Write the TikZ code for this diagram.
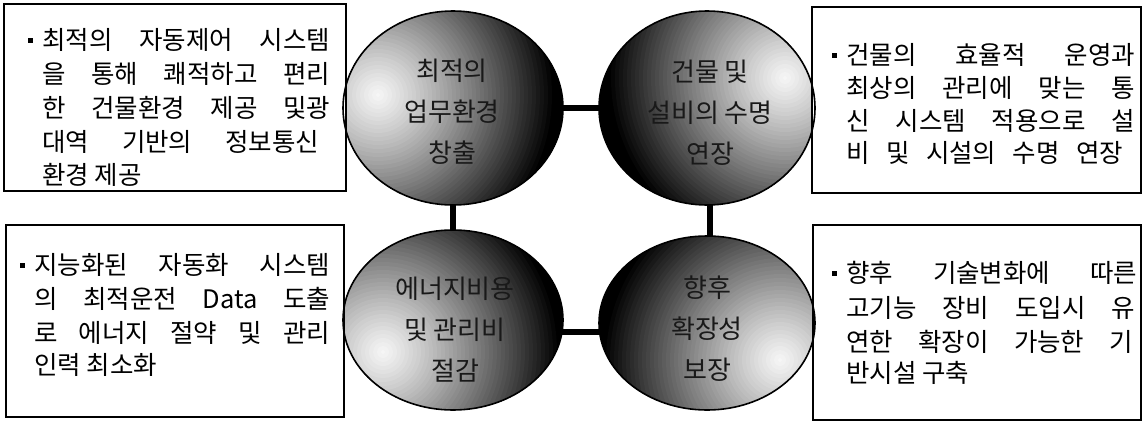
\documentclass[tikz,border=0pt]{standalone}
\usepackage{fontspec}
\setmainfont{Noto Sans CJK KR}
\usetikzlibrary{shapes.geometric}
\newcommand\myballfill[1]{%
  \foreach \r in {230,226,...,2}{%
    \pgfmathsetmacro\pp{min(100,3+97*(\r/178)^1.15)}%
    \fill[black!\pp] (#1) circle (\r pt);
  }}
\tikzset{
  conn/.style={line width=6pt, black},
  sph/.style={ellipse, inner sep=0pt, outer sep=0pt},
  sphline/.style={line width=1.6pt, black},
  infobox/.style={draw=black, line width=2.6pt, fill=white},
  ln/.style={anchor=base west, inner sep=0pt, font=\fontsize{25.5pt}{31pt}\selectfont},
  ctext/.style={align=center, inner sep=0pt, text=black!90, font=\fontsize{26pt}{41pt}\selectfont},
  bul/.style={rectangle, fill=black, minimum size=5pt, inner sep=0pt}
}
\begin{document}
\begin{tikzpicture}[x=1pt, y=-1pt]
\useasboundingbox[fill=white] (0,0) rectangle (1144,426);
\spaceskip=0.3em plus 3em
% spheres
\node[sph, minimum width=220pt, minimum height=194pt] (c1) at (453,108) {};
\node[sph, minimum width=216pt, minimum height=194pt] (c2) at (707,108) {};
\node[sph, minimum width=220pt, minimum height=180pt] (c3) at (453,320) {};
\node[sph, minimum width=216pt, minimum height=174pt] (c4) at (707,323) {};
% light points
\coordinate (lp1) at (378,95);
\coordinate (lp2) at (785,78);
\coordinate (lp3) at (383,352);
\coordinate (lp4) at (780,360);
% connectors
\draw[conn] (c1.center) -- (c2.center);
\draw[conn] (c1.center) -- (c3.center);
\draw[conn] ([xshift=3pt]c2.center) -- ([xshift=3pt]c4.center);
\draw[conn] ([yshift=-12pt]c3.center) -- ([yshift=-12pt]c3.center -| c4.center);
% shading
\begin{scope}
\clip (c1.center) ellipse [x radius=110pt, y radius=97pt];
\myballfill{lp1}
\end{scope}
\begin{scope}
\clip (c2.center) ellipse [x radius=108pt, y radius=97pt];
\myballfill{lp2}
\end{scope}
\begin{scope}
\clip (c3.center) ellipse [x radius=110pt, y radius=90pt];
\myballfill{lp3}
\end{scope}
\begin{scope}
\clip (c4.center) ellipse [x radius=108pt, y radius=87pt];
\myballfill{lp4}
\end{scope}
% circle texts
\node[ctext] (k1) at (452,112) {최적의\\업무환경\\창출};
\node[ctext] (k2) at (710,113) {건물 및\\설비의 수명\\연장};
\node[ctext] (k3) at (455,330) {에너지비용\\및 관리비\\절감};
\node[ctext] (k4) at (707,329) {향후\\확장성\\보장};
% boxes
\node[infobox, minimum width=342pt, minimum height=187pt] (B1) at (175,97.5) {};
\node[infobox, minimum width=329pt, minimum height=186pt] (B2) at (976.5,100) {};
\node[infobox, minimum width=338pt, minimum height=192pt] (B3) at (175,321) {};
\node[infobox, minimum width=328pt, minimum height=195pt] (B4) at (977,322.5) {};
% circle outlines
\draw[sphline] (c1.center) ellipse [x radius=110pt, y radius=97pt];
\draw[sphline] (c2.center) ellipse [x radius=108pt, y radius=97pt];
\draw[sphline] (c3.center) ellipse [x radius=110pt, y radius=90pt];
\draw[sphline] (c4.center) ellipse [x radius=108pt, y radius=87pt];
% box 1
\node[bul] (u1) at (30,40) {};
\node[ln] (t1a) at (42,49) {\makebox[288pt][s]{최적의 자동제어 시스템}};
\node[ln] (t1b) at (42,83) {\makebox[288pt][s]{을 통해 쾌적하고 편리}};
\node[ln] (t1c) at (42,117) {\makebox[288pt][s]{한 건물환경 제공 및광}};
\node[ln] (t1d) at (42,151) {\makebox[277pt][s]{대역 기반의 정보통신}};
\node[ln] (t1e) at (42,184) {환경 제공};
% box 2
\node[bul] (u2) at (834,55) {};
\node[ln] (t2a) at (846,64) {\makebox[289pt][s]{건물의 효율적 운영과}};
\node[ln] (t2b) at (846,97) {\makebox[289pt][s]{최상의 관리에 맞는 통}};
\node[ln] (t2c) at (846,130) {\makebox[289pt][s]{신 시스템 적용으로 설}};
\node[ln] (t2d) at (846,162) {\makebox[277pt][s]{비 및 시설의 수명 연장}};
% box 3
\node[bul] (u3) at (22,265) {};
\node[ln] (t3a) at (34,274) {\makebox[296pt][s]{지능화된 자동화 시스템}};
\node[ln] (t3b) at (34,308) {\makebox[296pt][s]{의 최적운전 Data 도출}};
\node[ln] (t3c) at (34,342) {\makebox[296pt][s]{로 에너지 절약 및 관리}};
\node[ln] (t3d) at (34,374) {인력 최소화};
% box 4
\node[bul] (u4) at (834,273) {};
\node[ln] (t4a) at (846,282) {\makebox[291pt][s]{향후 기술변화에 따른}};
\node[ln] (t4b) at (846,317) {\makebox[289pt][s]{고기능 장비 도입시 유}};
\node[ln] (t4c) at (846,351) {\makebox[287pt][s]{연한 확장이 가능한 기}};
\node[ln] (t4d) at (846,382) {반시설 구축};
\end{tikzpicture}
\end{document}
